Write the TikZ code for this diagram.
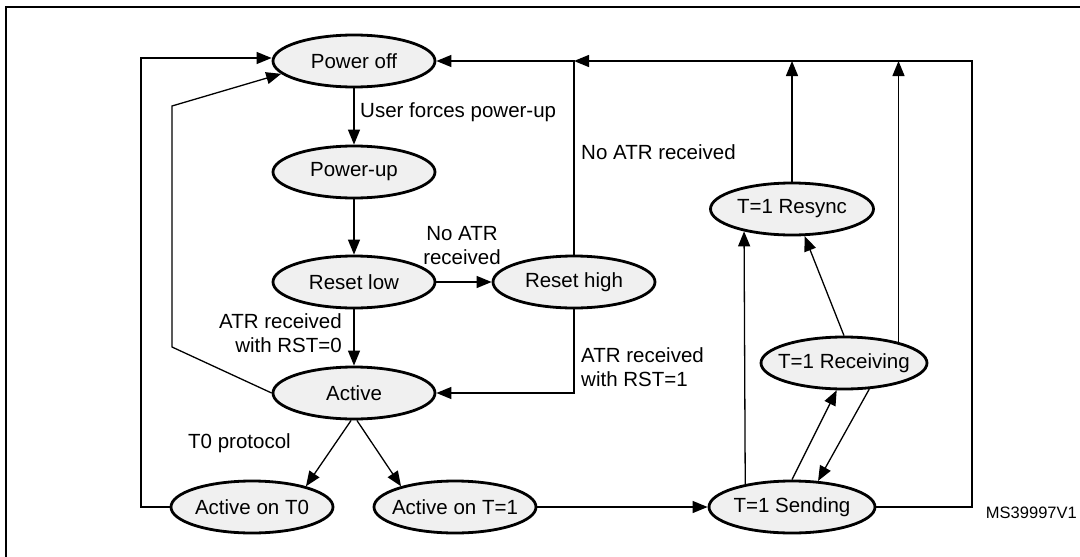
\documentclass[tikz,border=0pt]{standalone}
\usepackage{fontspec}
\setmainfont{Liberation Sans}
\usetikzlibrary{arrows.meta,shapes.geometric}
\definecolor{stategray}{RGB}{240,240,240}
\begin{document}
\begin{tikzpicture}[x=1pt,y=-1pt,
  state/.style={ellipse, draw, line width=2.8pt, fill=stategray,
    minimum width=162pt, minimum height=52pt, inner xsep=-12pt, inner ysep=0pt,
    font=\fontsize{20.5}{24}\selectfont},
  wire/.style={line width=1.3pt, -{Triangle[length=15pt,width=12pt]}},
  lbl/.style={inner sep=0pt, font=\fontsize{20.5}{24}\selectfont},
]
\clip (0,0) rectangle (1080,557);
% outer frame (cut by the page at right and bottom)
\draw[line width=2.2pt] (6,580) -- (6,7.3) -- (1100,7.3);

% states
\node[state] (poff) at (354,61) {Power off};
\node[state] (pup) at (354,172) {Power-up};
\node[state] (rlow) at (354,282) {Reset low};
\node[state] (rhigh) at (574,282) {Reset high};
\node[state] (act) at (354,393) {Active};
\node[state] (at0) at (252,507) {Active on T0};
\node[state] (at1) at (455,507) {Active on T=1};
\node[state, minimum width=166pt] (send) at (792,507) {T=1 Sending};
\node[state, minimum width=166pt] (recv) at (844,363) {T=1 Receiving};
\node[state, minimum width=163pt] (rsync) at (792,209) {T=1 Resync};

% routing points
\coordinate (j) at (rhigh.north |- poff.east);
\coordinate (topR) at (972,61);
\coordinate (lout) at (141,58);
\coordinate (lbend) at (172,347);
\coordinate (lin) at (172,106);

% transitions
\draw[wire] (at0.west) -| (lout) -- ([yshift=3pt]poff.west);
\draw[wire] (act.west) -- (lbend) -- (lin) -- (poff.190);
\draw[wire] (poff) -- (pup);
\draw[wire] (pup) -- (rlow);
\draw[wire] (rlow) -- (rhigh);
\draw[wire] (rlow) -- (act);
\draw[wire] (rhigh.south) |- (act.east);
\draw[wire] (rhigh.north) |- (poff.east);
\draw[wire] (send.east) -| (topR) -- (j);
\draw[wire] (rsync.north) -- (rsync.north |- j);
\draw[wire] (recv.21) -- (recv.21 |- j);
\draw[wire] (act.264) -- (at0.21);
\draw[wire] (act.276) -- (at1.159);
\draw[wire] (at1) -- (send);
\draw[wire] (send.154) -- (rsync.205);
\draw[wire] (send.north) -- (recv.255);
\draw[wire] (recv.314) -- (send.45);
\draw[wire] (recv.north) -- (rsync.295);

% transition labels
\node[lbl, anchor=west] (l1) at (360,112) {User forces power-up};
\node[lbl, align=center] (l2) at (462,246) {No ATR\\received};
\node[lbl, align=right, anchor=east] (l3) at (342,333) {ATR received\\with RST=0};
\node[lbl, anchor=west] (l4) at (581,152) {No ATR received};
\node[lbl, align=left, anchor=west] (l5) at (581,367) {ATR received\\with RST=1};
\node[lbl, anchor=west] (l6) at (188,443) {T0 protocol};
\node[inner sep=0pt, anchor=east, font=\fontsize{16.5}{20}\selectfont] (code) at (1077,513) {MS39997V1};
\end{tikzpicture}
\end{document}
